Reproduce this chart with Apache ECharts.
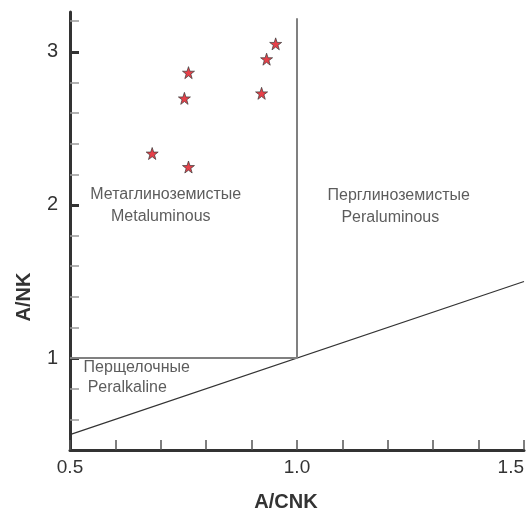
<!DOCTYPE html>
<html>
<head>
<meta charset="utf-8">
<script src="https://cdn.jsdelivr.net/npm/echarts@6/dist/echarts.min.js"></script>
<style>
html,body{margin:0;padding:0;background:#fff;}
#chart{width:527px;height:512px;}
</style>
</head>
<body>
<div id="chart"></div>
<script>
// ---- data ----
const starX = [0.953, 0.933, 0.761, 0.752, 0.922, 0.681, 0.761];
const starY = [3.052, 2.952, 2.864, 2.696, 2.729, 2.336, 2.248];

const diagX = [0.5, 1.5];
const diagY = [0.5, 1.5];
const vertX = [1.0, 1.0];
const vertY = [1.0, 3.22];
const horizX = [0.5, 1.0];
const horizY = [1.0, 1.0];

const fieldLabels = ['Метаглиноземистые', 'Metaluminous', 'Перглиноземистые', 'Peraluminous', 'Перщелочные', 'Peralkaline'];
const fieldX = [0.711, 0.700, 1.224, 1.2055, 0.647, 0.626];
const fieldY = [2.069, 1.927, 2.062, 1.920, 0.938, 0.809];

const xTickLabels = [0.5, 1.0, 1.5];
const yTickLabels = [1, 2, 3];
const yMinorTicks = [0.6, 0.8, 1.2, 1.4, 1.6, 1.8, 2.2, 2.4, 2.6, 2.8, 3.2];

const xTitle = 'A/CNK';
const yTitle = 'A/NK';

// ---- chart ----
const FONT = '"Liberation Sans", Arial, sans-serif';
const zip = (a, b) => a.map((v, i) => [v, b[i]]);
const starPath = 'path://M50,0 L61.8,35.1 L98.1,35.1 L68.8,56.8 L79.4,91.9 L50,70.4 L20.6,91.9 L31.2,56.8 L1.9,35.1 L38.2,35.1 Z';

const chart = echarts.init(document.getElementById('chart'), null, {renderer: 'canvas'});

const yBase = {
  type: 'value', min: 0.4, max: 3.26, position: 'left',
  splitLine: {show: false}
};

chart.setOption({
  animation: false,
  backgroundColor: '#fff',
  grid: {left: 70, right: 1, top: 12, bottom: 62, containLabel: false},
  xAxis: {
    type: 'value', min: 0.5, max: 1.5, interval: 0.1,
    axisLine: {show: true, onZero: false, lineStyle: {color: '#333', width: 3}},
    axisTick: {show: true, inside: true, length: 10, lineStyle: {color: '#555', width: 1.5}},
    axisLabel: {
      customValues: xTickLabels,
      formatter: v => v.toFixed(1),
      color: '#333', fontSize: 19, fontFamily: FONT, margin: 8,
      alignMaxLabel: 'right'
    },
    splitLine: {show: false}
  },
  yAxis: [
    Object.assign({}, yBase, {
      axisLine: {show: true, onZero: false, lineStyle: {color: '#333', width: 3}},
      axisTick: {show: true, inside: true, length: 9, customValues: yMinorTicks, lineStyle: {color: '#999', width: 1.5}},
      axisLabel: {show: false}
    }),
    Object.assign({}, yBase, {
      axisLine: {show: false, onZero: false},
      axisTick: {show: true, inside: true, length: 9, customValues: yTickLabels, lineStyle: {color: '#333', width: 3}},
      axisLabel: {
        customValues: yTickLabels,
        formatter: v => String(v),
        color: '#333', fontSize: 20, fontFamily: FONT, margin: 12
      }
    })
  ],
  graphic: [
    {
      type: 'text', x: 24.5, y: 297, rotation: Math.PI / 2,
      style: {text: yTitle, fill: '#333', font: 'bold 20px ' + FONT, textAlign: 'center', textVerticalAlign: 'middle'}
    },
    {
      type: 'text', x: 286, y: 502,
      style: {text: xTitle, fill: '#333', font: 'bold 20px ' + FONT, textAlign: 'center', textVerticalAlign: 'middle'}
    }
  ],
  series: [
    {
      type: 'line', data: zip(diagX, diagY), symbol: 'none', silent: true,
      lineStyle: {color: '#333', width: 1.2}, z: 2
    },
    {
      type: 'line', data: zip(vertX, vertY), symbol: 'none', silent: true,
      lineStyle: {color: '#808080', width: 2}, z: 2
    },
    {
      type: 'line', data: zip(horizX, horizY), symbol: 'none', silent: true,
      lineStyle: {color: '#808080', width: 2}, z: 2
    },
    {
      type: 'scatter', silent: true, symbolSize: 0,
      data: fieldLabels.map((t, i) => ({value: [fieldX[i], fieldY[i]], name: t})),
      label: {
        show: true, position: 'inside', formatter: p => p.name,
        color: '#333', fontSize: 16, fontFamily: FONT
      },
      z: 3
    },
    {
      type: 'scatter', data: zip(starX, starY),
      symbol: starPath, symbolSize: 12,
      itemStyle: {color: '#e0101c', borderColor: '#3a3a3a', borderWidth: 0.9},
      z: 5
    }
  ]
});
</script>
</body>
</html>
